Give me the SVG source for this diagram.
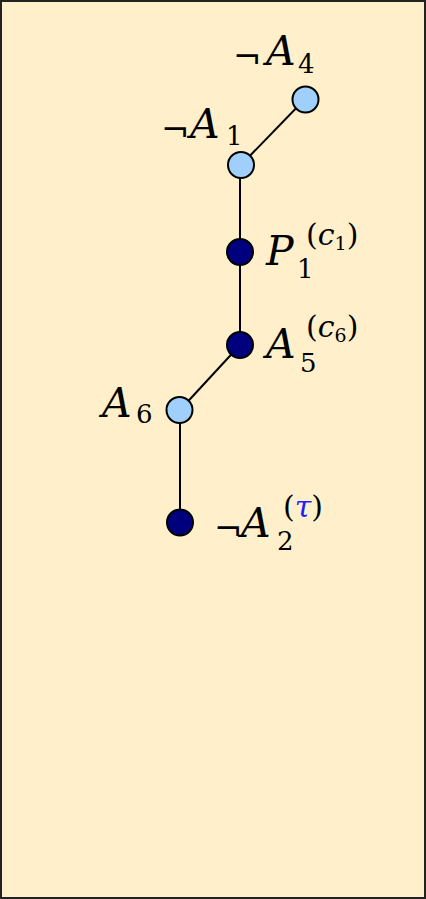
<svg xmlns="http://www.w3.org/2000/svg" width="426" height="899" viewBox="0 0 426 899">
<style>
.bg{fill:#FFF0CB;stroke:#222;stroke-width:2}
.edge{stroke:#000;stroke-width:2;fill:none}
.light{fill:#9FCFFA;stroke:#000;stroke-width:2}
.dark{fill:#00007F;stroke:#000;stroke-width:2}
text{font-family:"DejaVu Serif",serif;fill:#000}
.it{font-style:italic}
.big{font-size:41px}
.neg{font-size:34px}
.sub{font-size:26px}
.sup{font-size:30px}
.ssub{font-size:19px}
.tau{fill:#1f1fff;font-style:italic}
</style>
<rect class="bg" x="1" y="1" width="424" height="897"/>
<g id="edges">
<line class="edge" x1="305" y1="99" x2="241" y2="165"/>
<line class="edge" x1="240" y1="165" x2="240" y2="252"/>
<line class="edge" x1="240" y1="252" x2="240" y2="345"/>
<line class="edge" x1="240" y1="345" x2="180" y2="410"/>
<line class="edge" x1="180" y1="410" x2="180" y2="522"/>
</g>
<g id="nA4">
<circle class="light" cx="305.5" cy="99.5" r="13"/>
<text class="neg" x="233" y="69">¬</text>
<text class="big it" x="266" y="65">A</text>
<text class="sub" x="298" y="73">4</text>
</g>
<g id="nA1">
<circle class="light" cx="241" cy="165" r="13"/>
<text class="neg" x="161" y="142">¬</text>
<text class="big it" x="190" y="138">A</text>
<text class="sub" x="226" y="145">1</text>
</g>
<g id="nP1">
<circle class="dark" cx="240" cy="252" r="13"/>
<text class="big it" x="266" y="265">P</text>
<text class="sub" x="297" y="278">1</text>
<text class="sup" x="306" y="245">(<tspan class="it">c</tspan><tspan class="ssub" dy="5">1</tspan><tspan dy="-5">)</tspan></text>
</g>
<g id="nA5">
<circle class="dark" cx="240" cy="345" r="13"/>
<text class="big it" x="266" y="358">A</text>
<text class="sub" x="300" y="372">5</text>
<text class="sup" x="306" y="337">(<tspan class="it">c</tspan><tspan class="ssub" dy="5">6</tspan><tspan dy="-5">)</tspan></text>
</g>
<g id="nA6">
<circle class="light" cx="179.5" cy="410" r="13"/>
<text class="big it" x="102" y="417">A</text>
<text class="sub" x="136" y="423">6</text>
</g>
<g id="nA2">
<circle class="dark" cx="180" cy="522.5" r="13"/>
<text class="neg" x="214" y="541">¬</text>
<text class="big it" x="241" y="537">A</text>
<text class="sub" x="277" y="550">2</text>
<text class="sup" x="283" y="517">(<tspan class="tau">τ</tspan>)</text>
</g>
</svg>
